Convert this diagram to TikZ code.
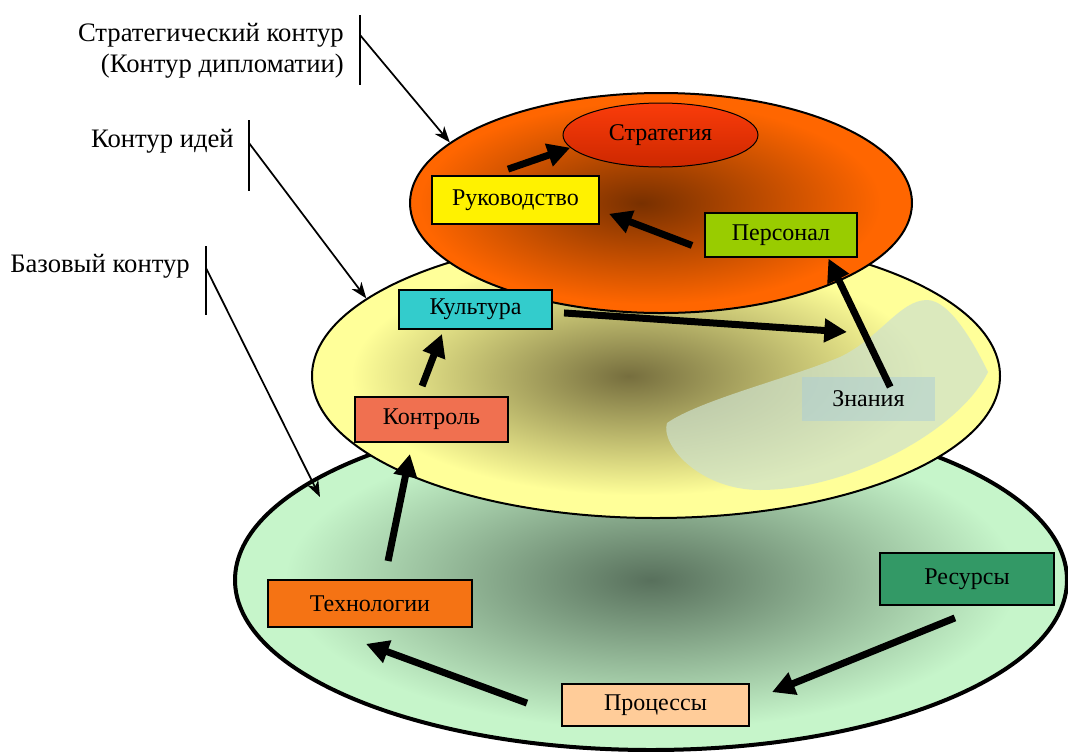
\documentclass[tikz,border=0pt]{standalone}
\usepackage{fontspec}
\setmainfont{Liberation Serif}
\usetikzlibrary{shapes.geometric,arrows.meta}
\newcommand{\px}{0.75pt}
\definecolor{redcore}{RGB}{120,48,0}
\definecolor{redrim}{RGB}{255,102,0}
\definecolor{yelcore}{RGB}{118,110,62}
\definecolor{yelrim}{RGB}{255,255,153}
\definecolor{grncore}{RGB}{88,112,92}
\definecolor{grnrim}{RGB}{198,245,202}
\definecolor{stratlight}{RGB}{250,60,10}
\definecolor{stratdark}{RGB}{205,40,0}
\definecolor{perscol}{RGB}{153,204,0}
\definecolor{kultcol}{RGB}{51,204,204}
\definecolor{kontrcol}{RGB}{240,112,80}
\definecolor{tekhncol}{RGB}{245,115,20}
\definecolor{protzcol}{RGB}{255,204,153}
\definecolor{resurcol}{RGB}{51,153,102}
\definecolor{blobcol}{RGB}{205,225,205}
\definecolor{znancol}{RGB}{170,205,215}
\pgfdeclareradialshading{redglow}{\pgfpoint{-2bp}{0bp}}{color(0bp)=(redcore); color(23bp)=(redrim); color(50bp)=(redrim)}
\pgfdeclareradialshading{yelglow}{\pgfpoint{-2bp}{0bp}}{color(0bp)=(yelcore); color(21bp)=(yelrim); color(50bp)=(yelrim)}
\pgfdeclareradialshading{grnglow}{\pgfpoint{0bp}{0bp}}{color(0bp)=(grncore); color(22bp)=(grnrim); color(50bp)=(grnrim)}
\newcommand{\contourell}[7]{\node[ellipse, draw, line width=#7, shading=#2, inner sep=0pt, minimum width=2*#5*\px, minimum height=2*#6*\px] (#1) at (#3,#4) {};}
\newcommand{\stagenode}[7]{\node[stagebox, fill=#2, minimum width=#5*\px, minimum height=#6*\px] (#1) at (#3,#4) {#7};}
\begin{document}
\begin{tikzpicture}[x=\px, y=-\px,
    stagebox/.style={draw=black, line width=1.5pt, inner sep=0pt, font=\fontsize{18}{21}\selectfont},
    contourlabel/.style={inner sep=0pt, font=\fontsize{20}{23.25}\selectfont},
    bigarrow/.style={line width=5.25pt, -{Triangle[length=17pt,width=17pt]}},
    pointer/.style={line width=1.3pt, -{Stealth[length=12pt,width=9pt,inset=3.5pt]}},
    barline/.style={line width=1.7pt}]
    \useasboundingbox (0,0) rectangle (1068,751);
    \contourell{grnell}{grnglow}{651}{580}{416}{170}{3pt}
    \contourell{yelell}{yelglow}{656}{376}{344}{142}{1.5pt}
    \fill[blobcol, opacity=0.7] (667,423) .. controls (700,400) and (790,378) .. (840,357)
        .. controls (880,338) and (900,300) .. (927,300) .. controls (950,300) and (975,345) .. (988,372)
        .. controls (960,430) and (850,490) .. (760,490) .. controls (700,490) and (660,445) .. (667,423) -- cycle;
    \contourell{redell}{redglow}{661}{203}{251}{110}{1.5pt}
    \node[ellipse, draw, line width=0.75pt, top color=stratlight, bottom color=stratdark, inner sep=0pt,
        minimum width=195*\px, minimum height=64*\px, font=\fontsize{18}{21}\selectfont] (strat) at (660.5,135) {Стратегия};
    \stagenode{rukov}{yellow}{515.5}{200}{167}{48}{Руководство}
    \stagenode{pers}{perscol}{781}{235}{152}{44}{Персонал}
    \stagenode{kult}{kultcol}{475.5}{309.5}{153}{39}{Культура}
    \stagenode{kontr}{kontrcol}{431.5}{419.5}{153}{45}{Контроль}
    \stagenode{tekhn}{tekhncol}{370}{603.5}{204}{47}{Технологии}
    \stagenode{protz}{protzcol}{655.5}{705}{187}{42}{Процессы}
    \stagenode{resur}{resurcol}{967}{579}{174}{52}{Ресурсы}
    \node[fill=znancol, fill opacity=0.5, text opacity=1, inner sep=0pt, minimum width=133*\px, minimum height=44*\px,
        font=\fontsize{18}{21}\selectfont] (znan) at (868.5,399) {Знания};
    \coordinate (knowl) at (847,332);
    \draw[bigarrow, shorten <=13.5pt] ([xshift=-18.4pt]rukov.north) -- (strat.188);
    \draw[bigarrow, shorten <=9.6pt, shorten >=7.2pt] (pers.191) -- (rukov.-7);
    \draw[bigarrow, shorten <=8.3pt] (kult.-2) -- (knowl);
    \draw[bigarrow, shorten <=10pt, shorten >=0.5pt] ([xshift=20.6pt]znan.center) -- (pers.-26);
    \draw[bigarrow, shorten <=8pt, shorten >=3.2pt] ([xshift=-9.9pt]kontr.north) -- ([xshift=-24pt]kult.south);
    \draw[bigarrow, shorten <=13.8pt, shorten >=8.4pt] ([xshift=10.8pt]tekhn.north) -- ([xshift=-14.5pt]kontr.south);
    \draw[bigarrow, shorten <=27.2pt, shorten >=34.5pt] ([yshift=-7.95pt]protz.west) -- ([xshift=-35.4pt]tekhn.south);
    \draw[bigarrow, shorten <=23.8pt, shorten >=17.8pt] ([xshift=13pt]resur.south) -- ([yshift=3pt]protz.east);
    \node[contourlabel, align=right, anchor=east] (labstrat) at (344,51) {Стратегический контур\\(Контур дипломатии)};
    \node[contourlabel, anchor=base east] (labidea) at (234,147) {Контур идей};
    \node[contourlabel, anchor=base east] (labbase) at (190,272) {Базовый контур};
    \draw[barline] (360,15) -- (360,85);
    \draw[barline] (249,120) -- (249,191);
    \draw[barline] (206,246) -- (206,315);
    \coordinate (stratmark) at (360,35);
    \coordinate (ideamark) at (249,143);
    \coordinate (basemark) at (206,268);
    \coordinate (basetip) at (320,497);
    \draw[pointer] (stratmark) -- (redell.164);
    \draw[pointer] (ideamark) -- (yelell.165);
    \draw[pointer] (basemark) -- (basetip);
\end{tikzpicture}
\end{document}
